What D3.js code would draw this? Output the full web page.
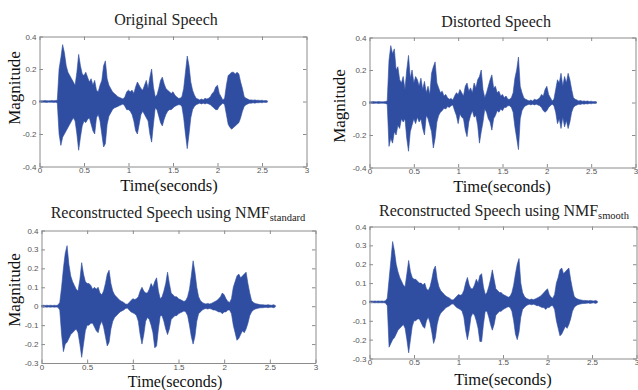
<!DOCTYPE html>
<html>
<head>
<meta charset="utf-8">
<script src="https://cdn.jsdelivr.net/npm/d3@7/dist/d3.min.js"></script>
<style>
  html, body { margin: 0; padding: 0; background: #fff; }
  svg { display: block; }
</style>
</head>
<body>
<svg id="chart" width="638" height="390"></svg>
<script>
// ---------- DATA ----------
const sampleTime = [0,0.02,0.04,0.06,0.08,0.1,0.12,0.14,0.16,0.18,0.2,0.22,0.24,0.26,0.28,0.3,0.32,0.34,0.36,0.38,
0.4,0.42,0.44,0.46,0.48,0.5,0.52,0.54,0.56,0.58,0.6,0.62,0.64,0.66,0.68,0.7,0.72,0.74,0.76,0.78,
0.8,0.82,0.84,0.86,0.88,0.9,0.92,0.94,0.96,0.98,1,1.02,1.04,1.06,1.08,1.1,1.12,1.14,1.16,1.18,
1.2,1.22,1.24,1.26,1.28,1.3,1.32,1.34,1.36,1.38,1.4,1.42,1.44,1.46,1.48,1.5,1.52,1.54,1.56,1.58,
1.6,1.62,1.64,1.66,1.68,1.7,1.72,1.74,1.76,1.78,1.8,1.82,1.84,1.86,1.88,1.9,1.92,1.94,1.96,1.98,
2,2.02,2.04,2.06,2.08,2.1,2.12,2.14,2.16,2.18,2.2,2.22,2.24,2.26,2.28,2.3,2.32,2.34,2.36,2.38,
2.4,2.42,2.44,2.46,2.48,2.5,2.52,2.54,2.56];

// Original speech: upper / lower envelope
const originalHi = [0.004,0.005,0.004,0.006,0.005,0.004,0.005,0.006,0.005,0.006,0.008,
0.20,0.27,0.35,0.30,0.22,0.18,0.16,0.14,0.12,0.10,0.18,0.29,0.22,0.17,0.16,0.18,0.15,0.12,0.14,
0.10,0.13,0.07,0.06,0.10,0.13,0.22,0.25,0.14,0.10,0.08,0.06,0.05,0.04,0.03,0.025,0.02,0.015,0.03,0.06,
0.07,0.06,0.07,0.05,0.09,0.12,0.10,0.08,0.07,0.10,0.13,0.08,0.15,0.20,0.09,0.03,0.04,0.08,0.13,0.15,
0.11,0.08,0.07,0.06,0.05,0.06,0.04,0.03,0.02,0.02,0.03,0.08,0.18,0.28,0.22,0.12,0.07,0.04,0.02,0.015,
0.01,0.015,0.01,0.02,0.015,0.02,0.03,0.05,0.06,0.09,0.10,0.05,0.03,0.01,0.02,0.10,0.16,0.17,0.18,0.18,
0.17,0.18,0.17,0.12,0.08,0.03,0.02,0.015,0.01,0.01,0.008,0.01,0.007,0.008,0.006,0.008,0.005,0.006,0.004];
const originalLo = [-0.004,-0.005,-0.004,-0.005,-0.006,-0.004,-0.005,-0.004,-0.006,-0.005,-0.008,
-0.20,-0.27,-0.22,-0.20,-0.18,-0.16,-0.14,-0.12,-0.10,-0.12,-0.20,-0.30,-0.22,-0.15,-0.12,-0.13,-0.11,-0.10,-0.14,
-0.18,-0.20,-0.10,-0.08,-0.12,-0.20,-0.28,-0.26,-0.14,-0.09,-0.07,-0.05,-0.04,-0.035,-0.03,-0.025,-0.02,-0.015,-0.03,-0.05,
-0.05,-0.06,-0.08,-0.12,-0.18,-0.20,-0.14,-0.08,-0.06,-0.08,-0.10,-0.12,-0.20,-0.25,-0.14,-0.04,-0.05,-0.09,-0.13,-0.15,
-0.11,-0.08,-0.06,-0.05,-0.05,-0.04,-0.03,-0.025,-0.02,-0.02,-0.03,-0.10,-0.20,-0.29,-0.20,-0.10,-0.05,-0.03,-0.02,-0.015,
-0.01,-0.015,-0.01,-0.015,-0.01,-0.015,-0.02,-0.03,-0.04,-0.05,-0.05,-0.03,-0.02,-0.01,-0.02,-0.08,-0.14,-0.16,-0.17,-0.16,
-0.15,-0.14,-0.13,-0.10,-0.06,-0.03,-0.02,-0.015,-0.01,-0.01,-0.008,-0.01,-0.007,-0.008,-0.006,-0.008,-0.005,-0.006,-0.004];

// Distorted speech
const distortedHi = [0.005,0.004,0.006,0.005,0.004,0.006,0.005,0.004,0.005,0.006,0.01,
0.26,0.35,0.30,0.33,0.20,0.22,0.14,0.12,0.16,0.08,0.20,0.29,0.15,0.20,0.12,0.16,0.14,0.10,0.15,
0.08,0.13,0.06,0.10,0.05,0.18,0.22,0.25,0.12,0.09,0.06,0.07,0.04,0.05,0.03,0.02,0.025,0.015,0.04,0.06,
0.05,0.08,0.06,0.04,0.10,0.12,0.07,0.09,0.06,0.12,0.09,0.14,0.16,0.20,0.08,0.03,0.06,0.10,0.14,0.17,
0.09,0.10,0.06,0.07,0.04,0.05,0.03,0.04,0.02,0.02,0.03,0.06,0.15,0.20,0.28,0.10,0.06,0.03,0.02,0.015,
0.01,0.015,0.01,0.02,0.015,0.02,0.03,0.05,0.04,0.08,0.10,0.05,0.03,0.01,0.02,0.08,0.14,0.12,0.18,0.10,
0.16,0.12,0.18,0.14,0.08,0.03,0.02,0.015,0.01,0.012,0.008,0.01,0.007,0.009,0.006,0.008,0.005,0.006,0.004];
const distortedLo = [-0.005,-0.004,-0.006,-0.005,-0.004,-0.006,-0.005,-0.004,-0.005,-0.006,-0.01,
-0.27,-0.22,-0.25,-0.18,-0.20,-0.14,-0.16,-0.10,-0.12,-0.10,-0.22,-0.30,-0.18,-0.14,-0.10,-0.13,-0.09,-0.12,-0.10,
-0.16,-0.20,-0.08,-0.10,-0.14,-0.18,-0.28,-0.22,-0.12,-0.08,-0.06,-0.05,-0.035,-0.04,-0.025,-0.03,-0.02,-0.015,-0.05,-0.08,
-0.13,-0.07,-0.09,-0.10,-0.17,-0.21,-0.12,-0.08,-0.05,-0.09,-0.08,-0.14,-0.25,-0.18,-0.12,-0.04,-0.06,-0.10,-0.12,-0.17,
-0.10,-0.08,-0.05,-0.06,-0.04,-0.05,-0.03,-0.03,-0.02,-0.02,-0.03,-0.06,-0.15,-0.22,-0.29,-0.10,-0.05,-0.03,-0.02,-0.015,
-0.01,-0.015,-0.01,-0.015,-0.01,-0.015,-0.02,-0.03,-0.05,-0.06,-0.05,-0.03,-0.02,-0.01,-0.02,-0.06,-0.13,-0.10,-0.16,-0.09,
-0.15,-0.11,-0.16,-0.12,-0.06,-0.03,-0.02,-0.015,-0.01,-0.012,-0.008,-0.01,-0.007,-0.009,-0.006,-0.008,-0.005,-0.006,-0.004];

// Reconstructed speech using NMF standard
const standardHi = [0.004,0.005,0.004,0.005,0.004,0.005,0.004,0.005,0.004,0.006,0.02,
0.10,0.20,0.28,0.32,0.22,0.16,0.13,0.11,0.09,0.08,0.14,0.23,0.17,0.13,0.12,0.12,0.11,0.09,0.10,
0.09,0.10,0.07,0.06,0.08,0.12,0.17,0.19,0.12,0.08,0.06,0.05,0.04,0.03,0.025,0.02,0.012,0.01,0.02,0.03,
0.04,0.035,0.04,0.05,0.08,0.10,0.08,0.07,0.07,0.09,0.12,0.10,0.13,0.15,0.08,0.04,0.05,0.08,0.12,0.18,
0.12,0.07,0.06,0.05,0.05,0.04,0.035,0.03,0.025,0.03,0.05,0.09,0.16,0.24,0.18,0.10,0.05,0.03,0.02,0.015,
0.012,0.015,0.012,0.015,0.02,0.025,0.03,0.04,0.05,0.07,0.06,0.04,0.025,0.02,0.04,0.10,0.13,0.16,0.17,0.15,
0.16,0.17,0.18,0.12,0.07,0.03,0.02,0.015,0.012,0.01,0.008,0.008,0.007,0.006,0.008,0.006,0.005,0.008,0.004];
const standardLo = [-0.004,-0.005,-0.004,-0.005,-0.004,-0.005,-0.004,-0.005,-0.004,-0.006,-0.02,
-0.15,-0.24,-0.20,-0.19,-0.17,-0.15,-0.14,-0.13,-0.12,-0.14,-0.20,-0.27,-0.20,-0.13,-0.10,-0.10,-0.09,-0.09,-0.11,
-0.13,-0.14,-0.10,-0.08,-0.11,-0.16,-0.21,-0.19,-0.12,-0.08,-0.06,-0.05,-0.04,-0.03,-0.025,-0.02,-0.012,-0.01,-0.02,-0.03,
-0.035,-0.04,-0.05,-0.08,-0.15,-0.20,-0.15,-0.08,-0.06,-0.07,-0.10,-0.14,-0.22,-0.21,-0.12,-0.05,-0.05,-0.08,-0.12,-0.15,
-0.12,-0.07,-0.06,-0.05,-0.05,-0.04,-0.035,-0.03,-0.025,-0.03,-0.05,-0.10,-0.16,-0.20,-0.16,-0.08,-0.04,-0.03,-0.02,-0.015,
-0.012,-0.015,-0.012,-0.015,-0.02,-0.02,-0.025,-0.03,-0.03,-0.04,-0.03,-0.03,-0.02,-0.02,-0.04,-0.10,-0.14,-0.18,-0.17,-0.15,
-0.13,-0.14,-0.12,-0.09,-0.05,-0.03,-0.02,-0.015,-0.012,-0.01,-0.008,-0.008,-0.007,-0.006,-0.008,-0.006,-0.005,-0.008,-0.004];

// Reconstructed speech using NMF smooth
const smoothHi = [0.004,0.005,0.004,0.005,0.004,0.005,0.004,0.005,0.004,0.006,0.02,
0.12,0.22,0.32,0.27,0.20,0.16,0.13,0.11,0.09,0.08,0.15,0.22,0.16,0.13,0.12,0.12,0.11,0.10,0.10,
0.09,0.10,0.07,0.06,0.08,0.12,0.17,0.19,0.12,0.08,0.06,0.05,0.04,0.03,0.025,0.02,0.012,0.01,0.02,0.03,
0.04,0.035,0.04,0.06,0.10,0.13,0.09,0.07,0.07,0.09,0.12,0.10,0.14,0.15,0.08,0.04,0.05,0.08,0.12,0.17,
0.12,0.07,0.06,0.05,0.05,0.04,0.035,0.03,0.025,0.03,0.05,0.09,0.15,0.20,0.23,0.10,0.05,0.03,0.02,0.015,
0.012,0.015,0.012,0.015,0.02,0.025,0.03,0.04,0.05,0.06,0.07,0.04,0.025,0.02,0.04,0.10,0.13,0.17,0.18,0.15,
0.16,0.17,0.18,0.12,0.07,0.03,0.02,0.015,0.012,0.01,0.008,0.008,0.007,0.006,0.008,0.006,0.005,0.008,0.004];
const smoothLo = [-0.004,-0.005,-0.004,-0.005,-0.004,-0.005,-0.004,-0.005,-0.004,-0.006,-0.02,
-0.24,-0.22,-0.20,-0.19,-0.17,-0.15,-0.14,-0.13,-0.12,-0.14,-0.20,-0.27,-0.20,-0.13,-0.10,-0.10,-0.09,-0.09,-0.11,
-0.13,-0.14,-0.10,-0.08,-0.11,-0.16,-0.22,-0.19,-0.12,-0.08,-0.06,-0.05,-0.04,-0.03,-0.025,-0.02,-0.012,-0.01,-0.02,-0.03,
-0.035,-0.04,-0.05,-0.08,-0.15,-0.20,-0.15,-0.08,-0.06,-0.07,-0.10,-0.14,-0.21,-0.21,-0.12,-0.05,-0.05,-0.08,-0.12,-0.15,
-0.12,-0.07,-0.06,-0.05,-0.05,-0.04,-0.035,-0.03,-0.025,-0.03,-0.05,-0.10,-0.17,-0.20,-0.16,-0.08,-0.04,-0.03,-0.02,-0.015,
-0.012,-0.015,-0.012,-0.015,-0.02,-0.02,-0.025,-0.03,-0.03,-0.04,-0.03,-0.03,-0.02,-0.02,-0.04,-0.10,-0.14,-0.18,-0.17,-0.15,
-0.13,-0.14,-0.12,-0.09,-0.05,-0.03,-0.02,-0.015,-0.012,-0.01,-0.008,-0.008,-0.007,-0.006,-0.008,-0.006,-0.005,-0.008,-0.004];

const xTickValues = [0, 0.5, 1, 1.5, 2, 2.5, 3];
const yTicksTop = [-0.4, -0.2, 0, 0.2, 0.4];
const yTicksBottom = [-0.3, -0.2, -0.1, 0, 0.1, 0.2, 0.3, 0.4];
const panelTitles = ["Original Speech", "Distorted Speech", "Reconstructed Speech using NMF", "Reconstructed Speech using NMF"];
const titleSubscripts = ["", "", "standard", "smooth"];
const xLabel = "Time(seconds)";
const yLabel = "Magnitude";

// ---------- LAYOUT ----------
const panels = [
  { hi: originalHi,  lo: originalLo,  yDomain: [-0.4, 0.4], yTicks: yTicksTop,
    box: [39.5, 36.5, 306.5, 166.5], title: [166, 25], xlab: [169, 191], xfs: 16.5, ylab: [14, 88] },
  { hi: distortedHi, lo: distortedLo, yDomain: [-0.4, 0.4], yTicks: yTicksTop,
    box: [369.5, 37.5, 635.5, 167.5], title: [496, 27], xlab: [502, 192], xfs: 16.5, ylab: [339, 106] },
  { hi: standardHi,  lo: standardLo,  yDomain: [-0.3, 0.4], yTicks: yTicksBottom,
    box: [41.5, 230.5, 315.5, 363], title: [178, 218], xlab: [175, 386.5], xfs: 16, ylab: [14, 290] },
  { hi: smoothHi,    lo: smoothLo,    yDomain: [-0.3, 0.4], yTicks: yTicksBottom,
    box: [369.5, 226.5, 636.5, 358.5], title: [504, 216], xlab: [503, 385], xfs: 16.5, ylab: null }
];

const svg = d3.select("#chart");
const axisColor = "#8c8c8c";
const waveColor = "#2f4da1";

function fmt(d) { return d === 0 ? "0" : String(d); }

panels.forEach((p, k) => {
  const [x0, y0, x1, y1] = p.box;
  const x = d3.scaleLinear().domain([0, 3]).range([x0, x1]);
  const y = d3.scaleLinear().domain(p.yDomain).range([y1, y0]);
  const g = svg.append("g");

  // waveform
  const area = d3.area()
    .x((d, i) => x(sampleTime[i]))
    .y0((d, i) => y(p.lo[i]))
    .y1((d, i) => y(p.hi[i]))
    .curve(d3.curveLinear);
  g.append("path")
    .datum(sampleTime)
    .attr("d", area)
    .attr("fill", waveColor)
    .attr("stroke", waveColor)
    .attr("stroke-width", 0.6)
    .attr("stroke-linejoin", "round");

  // axes
  const styleAxis = sel => {
    sel.selectAll("path.domain").attr("stroke", axisColor);
    sel.selectAll(".tick line").attr("stroke", axisColor);
    sel.selectAll(".tick text").attr("fill", "#555")
      .style("font-family", "'Liberation Sans', Arial, sans-serif").style("font-size", "8px");
  };
  g.append("g").attr("transform", `translate(0,${y1})`)
    .call(d3.axisBottom(x).tickValues(xTickValues).tickFormat(fmt).tickSizeInner(-3.5).tickSizeOuter(0).tickPadding(1))
    .call(styleAxis);
  g.append("g").attr("transform", `translate(0,${y0})`)
    .call(d3.axisTop(x).tickValues(xTickValues).tickFormat("").tickSizeInner(-3.5).tickSizeOuter(0))
    .call(styleAxis);
  g.append("g").attr("transform", `translate(${x0},0)`)
    .call(d3.axisLeft(y).tickValues(p.yTicks).tickFormat(fmt).tickSizeInner(-3.5).tickSizeOuter(0).tickPadding(3))
    .call(styleAxis);
  g.append("g").attr("transform", `translate(${x1},0)`)
    .call(d3.axisRight(y).tickValues(p.yTicks).tickFormat("").tickSizeInner(-3.5).tickSizeOuter(0))
    .call(styleAxis);
  g.selectAll(".domain").attr("fill", "none");

  // title
  const t = g.append("text")
    .attr("x", p.title[0]).attr("y", p.title[1])
    .attr("text-anchor", "middle")
    .style("font-family", "'Liberation Serif', 'Times New Roman', serif")
    .style("font-size", "16px").attr("fill", "#222");
  t.append("tspan").text(panelTitles[k]);
  if (titleSubscripts[k]) {
    t.append("tspan").text(titleSubscripts[k]).attr("dy", 3).style("font-size", "10.5px");
  }

  // x label
  g.append("text")
    .attr("x", p.xlab[0]).attr("y", p.xlab[1])
    .attr("text-anchor", "middle")
    .style("font-family", "'Liberation Serif', 'Times New Roman', serif")
    .style("font-size", p.xfs + "px").attr("fill", "#111")
    .text(xLabel);

  // y label
  if (p.ylab) {
    g.append("text")
      .attr("transform", `translate(${p.ylab[0]},${p.ylab[1]}) rotate(-90)`)
      .attr("text-anchor", "middle")
      .attr("dy", "0.35em")
      .style("font-family", "'Liberation Serif', 'Times New Roman', serif")
      .style("font-size", "17px").attr("fill", "#111")
      .text(yLabel);
  }
});
</script>
</body>
</html>
